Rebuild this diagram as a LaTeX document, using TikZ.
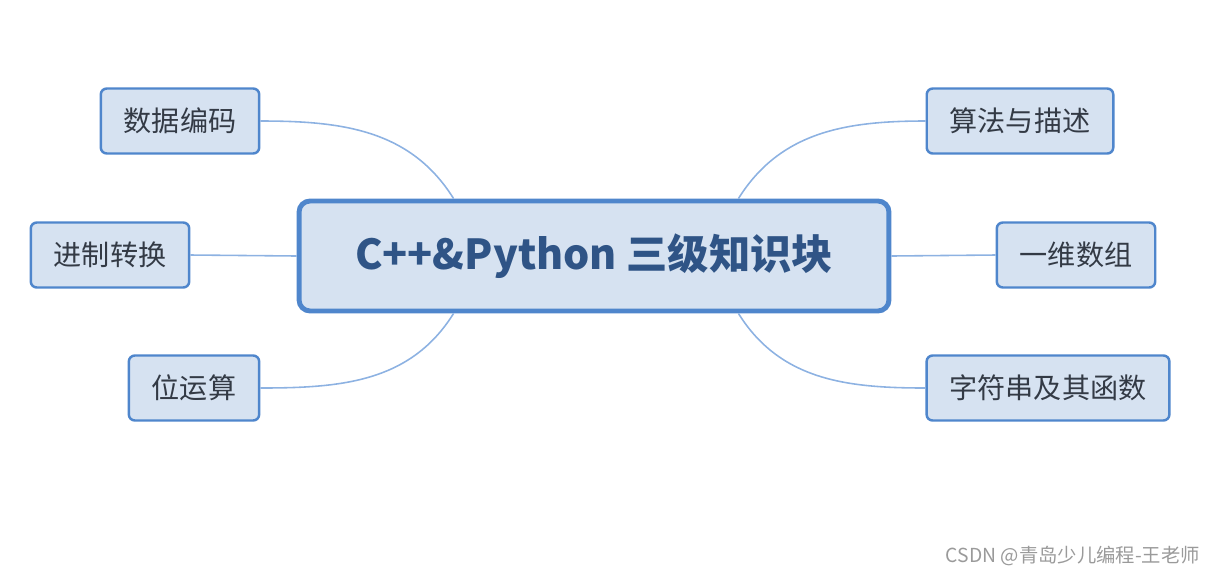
\documentclass[tikz,border=0pt]{standalone}
\usepackage{fontspec}
\setmainfont{Noto Sans CJK SC}
\usepackage{xcolor}
\usepackage{tikz}
\definecolor{Mborder}{HTML}{4F86CC}
\definecolor{Mfill}{HTML}{D6E2F1}
\definecolor{Mlink}{HTML}{8DB2E2}
\definecolor{Mtext}{HTML}{333A45}
\definecolor{Mhub}{HTML}{2F5486}
\definecolor{Mmark}{HTML}{9A9A9A}

\begin{document}
\begin{tikzpicture}[
  x=0.02cm, y=-0.02cm,
  hub/.style   ={draw=Mborder, fill=Mfill, line width=2.8pt, rounded corners=0.22cm, minimum width=11.8cm, minimum height=2.2cm, font=\fontsize{23.5}{28}\selectfont\bfseries, text=Mhub},
  topic/.style ={draw=Mborder, fill=Mfill, line width=1.4pt, rounded corners=0.12cm, inner xsep=0.46cm, minimum height=1.3cm, font=\fontsize{16}{19}\selectfont, text=Mtext},
  link/.style  ={draw=Mlink, line width=0.9pt},
]
\useasboundingbox (0,0) rectangle (1220,576);

% ── central topic ────────────────────────────────────────────────────
\node[hub] (hub) at (594,256) {C++\&Python 三级知识块};

% ── left branches ────────────────────────────────────────────────────
\node[topic] (code)  at (180,121) {数据编码};
\node[topic] (base)  at (110,255) {进制转换};
\node[topic] (bits)  at (194,388) {位运算};

% ── right branches ───────────────────────────────────────────────────
\node[topic] (algo)  at (1020,121) {算法与描述};
\node[topic] (array) at (1076,255) {一维数组};
\node[topic] (str)   at (1048,388) {字符串及其函数};

% ── links ────────────────────────────────────────────────────────────
\draw[link] (code.east) to[out=0,in=122] ([xshift=3.14cm]hub.north west);
\draw[link] (base.east) -- (hub.west);
\draw[link] (bits.east) to[out=0,in=-122] ([xshift=3.14cm]hub.south west);
\draw[link] (algo.west) to[out=180,in=58] ([xshift=-3.06cm]hub.north east);
\draw[link] (array.west) -- (hub.east);
\draw[link] (str.west) to[out=180,in=-58] ([xshift=-3.06cm]hub.south east);

% ── watermark ────────────────────────────────────────────────────────
\node[anchor=east, font=\fontsize{11}{13}\selectfont, text=Mmark] (mark) at (1206,556) {CSDN @青岛少儿编程-王老师};

\end{tikzpicture}
\end{document}
